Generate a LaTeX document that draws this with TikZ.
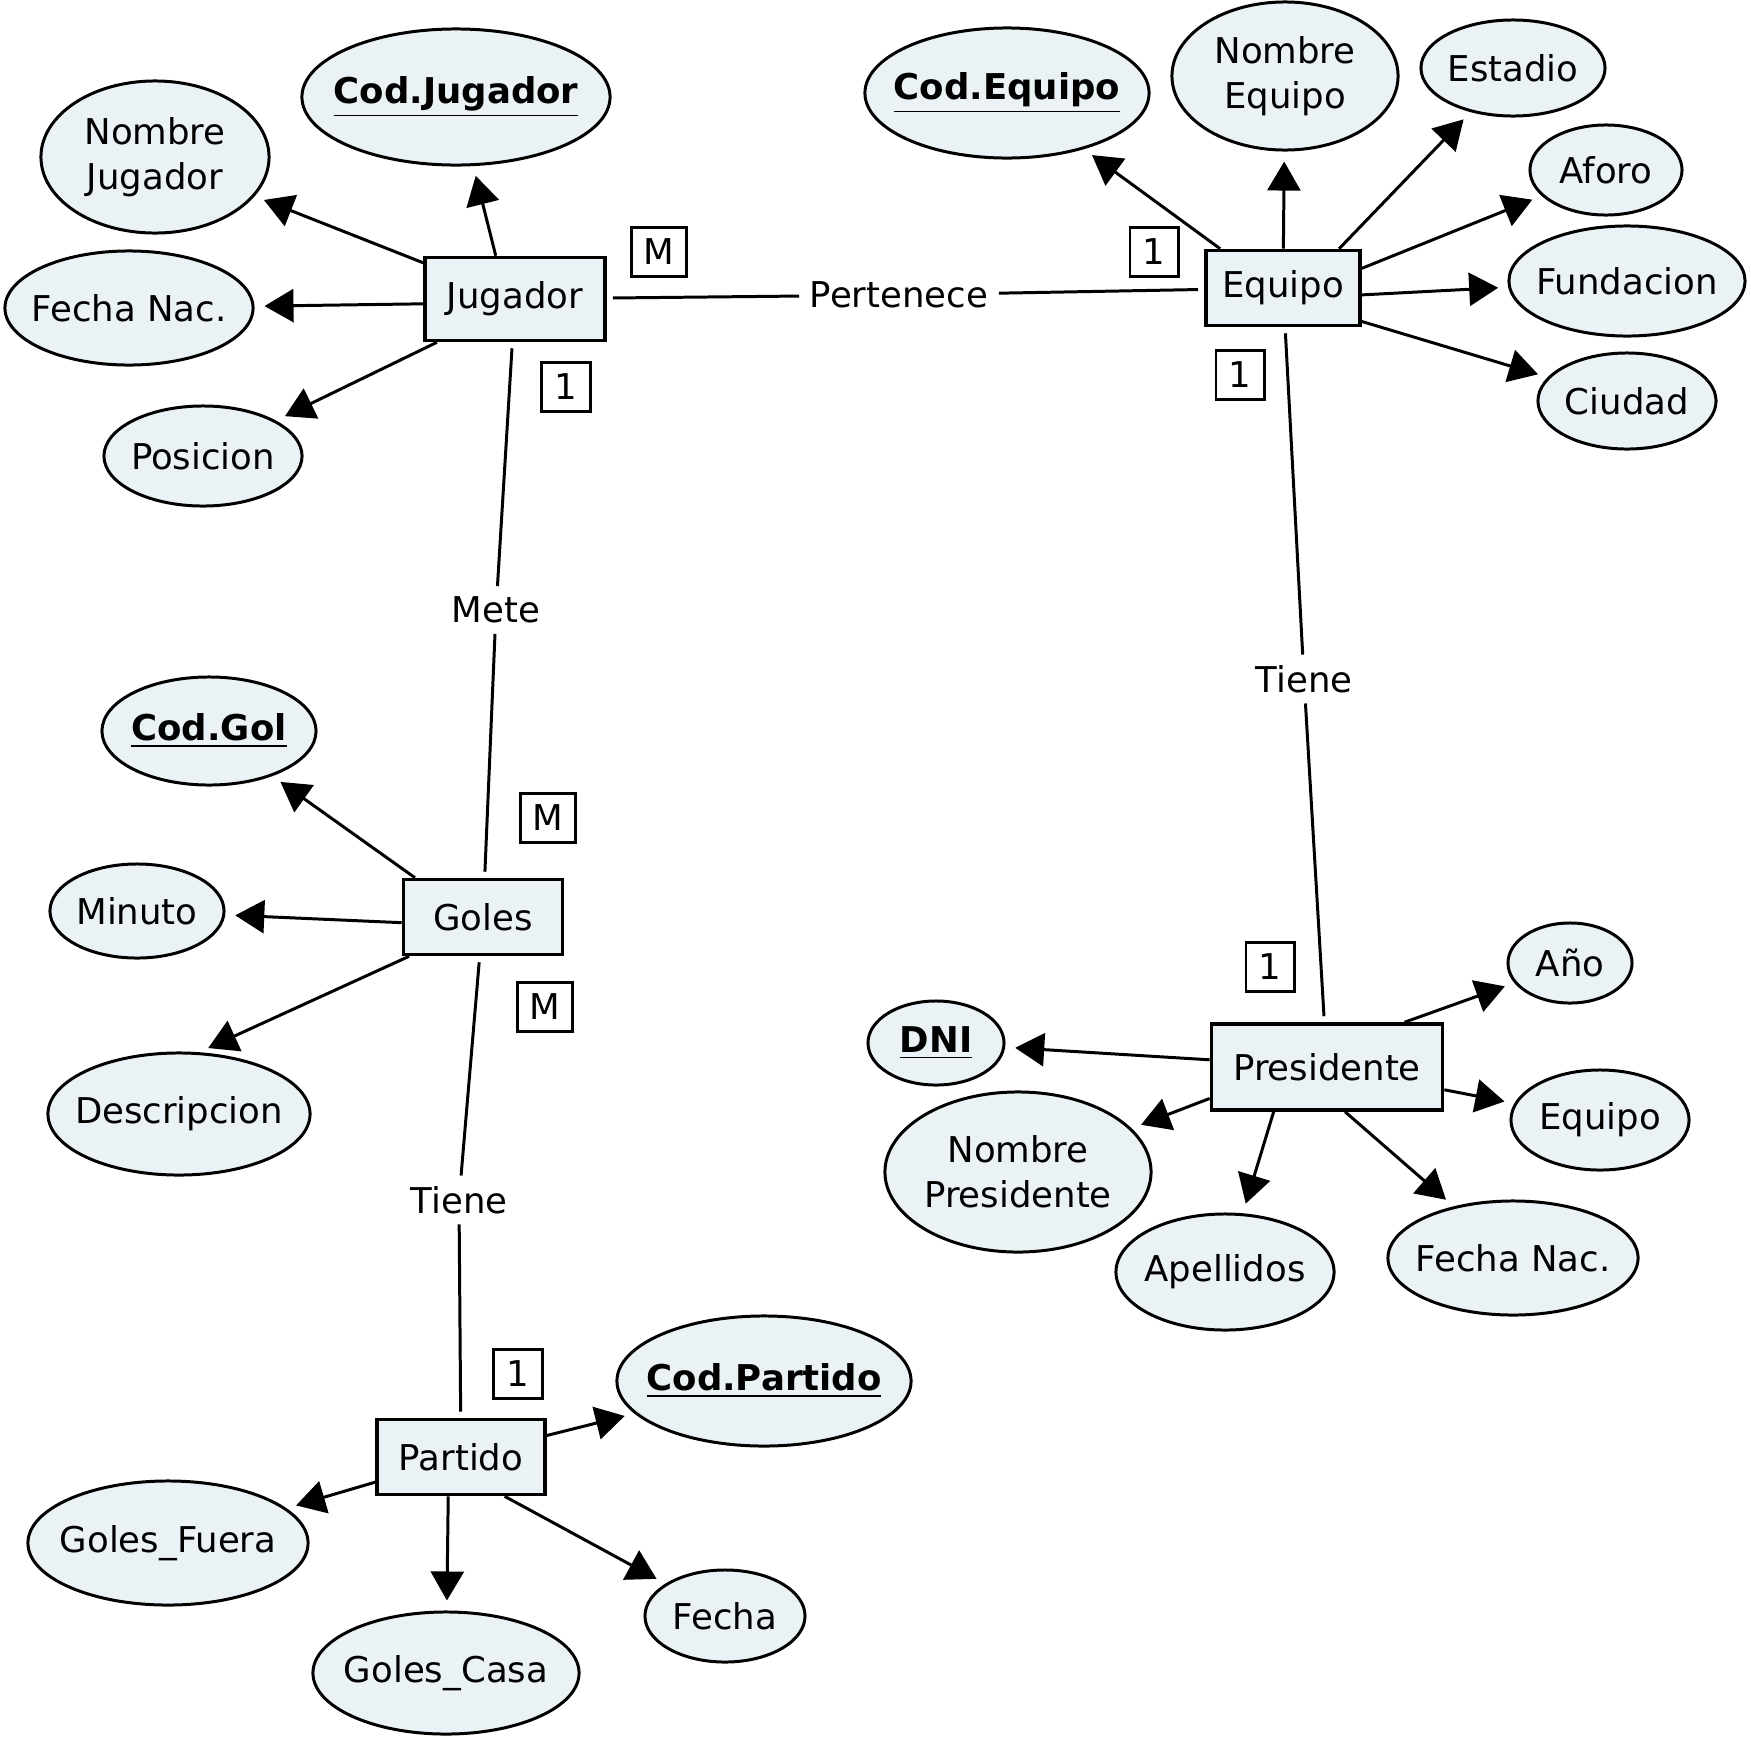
\documentclass[tikz,border=0pt]{standalone}
\usepackage{fontspec}
\setmainfont{DejaVu Sans}
\usetikzlibrary{shapes.geometric,arrows.meta}
\definecolor{attrfill}{RGB}{235,242,245}
\tikzset{
  er/.style={x=0.01cm,y=-0.01cm,font=\fontsize{10.1}{12.7}\selectfont},
  entity/.style={draw,line width=1pt,fill=attrfill,inner sep=0pt},
  attr/.style={ellipse,draw,line width=0.85pt,fill=attrfill,inner sep=0pt,align=center},
  card/.style={draw,line width=0.85pt,inner sep=0pt,minimum height=0.49cm},
  rel/.style={inner sep=0.1cm,fill=white},
  arr/.style={-{Triangle[length=0.29cm,width=0.33cm]},line width=0.85pt,shorten >=0.1cm},
  link/.style={line width=0.85pt,shorten <=0.06cm,shorten >=0.06cm},
}
% key attributes: bold and underlined
\newcommand{\pk}[1]{\underline{\textbf{#1}}}
% one-line label that leaves the ellipse size to its minimum width
\newcommand{\lbl}[1]{\makebox[0pt][c]{#1}}
\begin{document}
\begin{tikzpicture}[er]
\useasboundingbox (0,0) rectangle (1751,1742);

% entities
\node[entity,minimum width=1.80cm,minimum height=0.83cm] (jug) at (515,299) {Jugador};
\node[entity,minimum width=1.54cm,minimum height=0.75cm] (eq) at (1283,288) {Equipo};
\node[entity,minimum width=1.59cm,minimum height=0.75cm] (gol) at (483,917) {Goles};
\node[entity,minimum width=2.31cm,minimum height=0.86cm] (pre) at (1327,1067) {Presidente};
\node[entity,minimum width=1.68cm,minimum height=0.75cm] (par) at (461,1457) {Partido};

% attributes of Jugador
\node[attr,minimum width=3.08cm,minimum height=1.36cm] (cj) at (456,97) {\lbl{\pk{Cod.Jugador}}};
\node[attr,minimum width=2.28cm,minimum height=1.52cm] (nj) at (155,157) {Nombre\\Jugador};
\node[attr,minimum width=2.48cm,minimum height=1.14cm] (fj) at (129,308) {\lbl{Fecha Nac.}};
\node[attr,minimum width=1.98cm,minimum height=1.00cm] (po) at (203,456) {\lbl{Posicion}};

% attributes of Equipo
\node[attr,minimum width=2.84cm,minimum height=1.30cm] (ce) at (1007,93) {\lbl{\pk{Cod.Equipo}}};
\node[attr,minimum width=2.26cm,minimum height=1.48cm] (ne) at (1285,76) {Nombre\\Equipo};
\node[attr,minimum width=1.84cm,minimum height=0.96cm] (es) at (1513,68) {\lbl{Estadio}};
\node[attr,minimum width=1.52cm,minimum height=0.90cm] (af) at (1606,170) {\lbl{Aforo}};
\node[attr,minimum width=2.36cm,minimum height=1.10cm] (fu) at (1627,281) {\lbl{Fundacion}};
\node[attr,minimum width=1.78cm,minimum height=0.96cm] (ci) at (1627,401) {\lbl{Ciudad}};

% attributes of Goles
\node[attr,minimum width=2.14cm,minimum height=1.08cm] (cg) at (209,731) {\lbl{\pk{Cod.Gol}}};
\node[attr,minimum width=1.74cm,minimum height=0.94cm] (mi) at (137,911) {\lbl{Minuto}};
\node[attr,minimum width=2.62cm,minimum height=1.22cm] (de) at (179,1114) {\lbl{Descripcion}};

% attributes of Presidente
\node[attr,minimum width=1.36cm,minimum height=0.84cm] (dni) at (936,1043) {\lbl{\pk{DNI}}};
\node[attr,minimum width=2.66cm,minimum height=1.60cm] (np) at (1018,1172) {Nombre\\Presidente};
\node[attr,minimum width=2.18cm,minimum height=1.16cm] (ap) at (1225,1272) {\lbl{Apellidos}};
\node[attr,minimum width=2.50cm,minimum height=1.14cm] (fp) at (1513,1258) {\lbl{Fecha Nac.}};
\node[attr,minimum width=1.78cm,minimum height=1.00cm] (ep) at (1600,1120) {\lbl{Equipo}};
\node[attr,minimum width=1.24cm,minimum height=0.80cm] (an) at (1570,963) {\lbl{Año}};

% attributes of Partido
\node[attr,minimum width=2.94cm,minimum height=1.30cm] (cp) at (764,1381) {\lbl{\pk{Cod.Partido}}};
\node[attr,minimum width=2.80cm,minimum height=1.24cm] (gf) at (168,1543) {\lbl{Goles\_Fuera}};
\node[attr,minimum width=2.66cm,minimum height=1.22cm] (gc) at (446,1673) {\lbl{Goles\_Casa}};
\node[attr,minimum width=1.60cm,minimum height=0.92cm] (fe) at (725,1616) {\lbl{Fecha}};

% relationship labels
\node[rel] (pert) at (899,295) {Pertenece};
\node[rel] (mete) at (496,610) {Mete};
\node[rel] (tie1) at (1304,679) {Tiene};
\node[rel] (tie2) at (459,1200) {Tiene};

% cardinalities
\node[card,minimum width=0.54cm] (k1) at (659,252) {M};
\node[card,minimum width=0.48cm] (k2) at (1154,252) {1};
\node[card,minimum width=0.48cm] (k3) at (566,387) {1};
\node[card,minimum width=0.48cm] (k4) at (1240,375) {1};
\node[card,minimum width=0.54cm] (k5) at (548,818) {M};
\node[card,minimum width=0.54cm] (k6) at (545,1007) {M};
\node[card,minimum width=0.48cm] (k7) at (1270,967) {1};
\node[card,minimum width=0.48cm] (k8) at (518,1374) {1};

% relationships
\draw[link,shorten >=0pt] (jug) -- (pert);
\draw[link,shorten <=0pt] (pert) -- (eq);
\draw[link,shorten >=0pt] (jug) -- (mete);
\draw[link,shorten <=0pt] (mete) -- (gol);
\draw[link,shorten >=0pt] (eq) -- (tie1);
\draw[link,shorten <=0pt] (tie1) -- (pre);
\draw[link,shorten >=0pt] (gol) -- (tie2);
\draw[link,shorten <=0pt] (tie2) -- (par);

% attribute arrows
\draw[arr] (jug.114) -- (cj);
\draw[arr] (jug) -- (nj);
\draw[arr] (jug.183) -- (fj);
\draw[arr] (jug.209) -- (po);

\draw[arr] (eq.148) -- (ce);
\draw[arr] (eq) -- (ne);
\draw[arr] (eq.35) -- (es);
\draw[arr] (eq.14) -- (af);
\draw[arr] (eq.-5) -- (fu);
\draw[arr] (eq.-23) -- (ci);

\draw[arr] (gol.150) -- (cg);
\draw[arr] (gol.184) -- (mi);
\draw[arr] (gol.208) -- (de.72);

\draw[arr] (pre) -- (dni);
\draw[arr] (pre.195) -- (np);
\draw[arr] (pre.-140) -- (ap);
\draw[arr] (pre.-68) -- (fp);
\draw[arr] (pre) -- (ep);
\draw[arr] (pre.30) -- (an);

\draw[arr] (par) -- (cp);
\draw[arr] (par) -- (gf);
\draw[arr] (par.-108) -- (gc);
\draw[arr] (par.-42) -- (fe);
\end{tikzpicture}
\end{document}
